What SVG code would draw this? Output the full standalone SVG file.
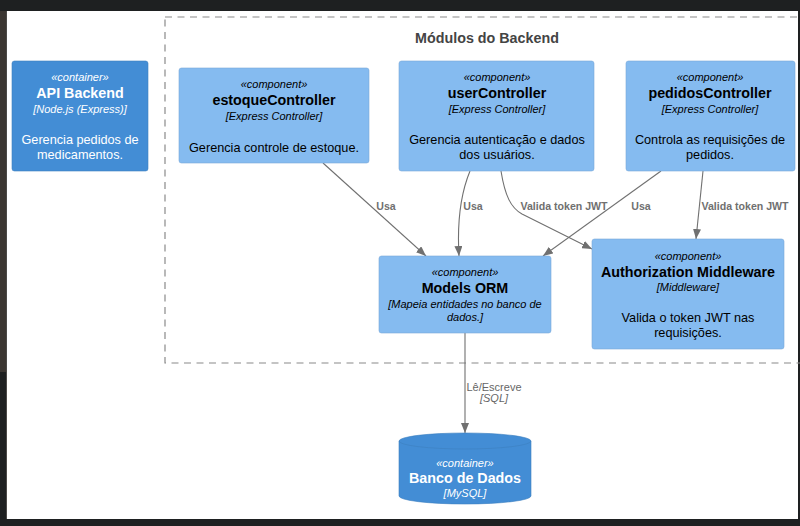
<svg xmlns="http://www.w3.org/2000/svg" width="800" height="526" viewBox="0 0 800 526">
<style>
text{font-family:"Liberation Sans",Arial,sans-serif}
.st{font-size:11px;font-style:italic;text-anchor:middle}
.ti{font-size:14.3px;font-weight:bold;text-anchor:middle}
.te{font-size:11px;font-style:italic;text-anchor:middle}
.de{font-size:12.7px;text-anchor:middle}
.comp rect{fill:#85bbf0;stroke:#78a8d8;stroke-width:0.6}
.comp text{fill:#000}
.cont rect,.cont path.b{fill:#438dd5;stroke:#3c7fc0;stroke-width:0.6}
.cont text{fill:#fff}
.lbl{font-size:10.6px;font-weight:bold;fill:#707070;text-anchor:middle}
.conn path{fill:none;stroke:#707070;stroke-width:1.1;marker-end:url(#ah)}
</style>
<defs>
<marker id="ah" markerUnits="userSpaceOnUse" markerWidth="10" markerHeight="8" refX="10" refY="4" orient="auto">
<path d="M0,0 L10,4 L0,8 z" fill="#707070"/>
</marker>
</defs>
<rect x="0" y="0" width="800" height="526" fill="#fff"/>
<rect x="0" y="0" width="800" height="11" fill="#1e2021"/>
<rect x="0" y="519" width="800" height="7" fill="#1e2021"/>
<rect x="798" y="0" width="2" height="526" fill="#1e2021"/>
<rect x="0" y="11" width="7" height="361" fill="#3b3632"/>
<rect x="0" y="372" width="7" height="154" fill="#1e2021"/>
<line x1="6.5" y1="11" x2="6.5" y2="519" stroke="#4c4a48" stroke-width="1"/>

<g id="boundary">
<rect x="165" y="17" width="640" height="346" fill="none" stroke="#8a8a8a" stroke-width="1.2" stroke-dasharray="7 5.5"/>
<text x="487" y="43" style="font-size:14.3px;font-weight:bold;fill:#444;text-anchor:middle">Módulos do Backend</text>
</g>

<g id="conectores" class="conn">
<path d="M323,163 L426,256"/>
<path d="M470,171 Q456,205 459,256"/>
<path d="M501,171 C505,196 511,208 522,214 L592,249"/>
<path d="M661,171 Q628,195 543,256"/>
<path d="M703,171 L696,239"/>
<path d="M465,333 L465,433"/>
<text class="lbl" x="386" y="210">Usa</text>
<text class="lbl" x="473" y="210">Usa</text>
<text class="lbl" x="564" y="210">Valida token JWT</text>
<text class="lbl" x="641" y="210">Usa</text>
<text class="lbl" x="745" y="210">Valida token JWT</text>
<text x="494" y="390.5" style="font-size:11px;fill:#666;text-anchor:middle">Lê/Escreve</text>
<text x="494" y="402" style="font-size:11px;font-style:italic;fill:#666;text-anchor:middle">[SQL]</text>
</g>

<g id="api-backend" class="cont">
<rect x="12" y="61" width="136" height="110" rx="2.5"/>
<text class="st" x="80" y="81">«container»</text>
<text class="ti" x="80" y="98">API Backend</text>
<text class="te" x="80" y="112.5">[Node.js (Express)]</text>
<text class="de" x="80" y="144">Gerencia pedidos de</text>
<text class="de" x="80" y="159">medicamentos.</text>
</g>

<g id="estoqueController" class="comp">
<rect x="179" y="68" width="190" height="95" rx="2.5"/>
<text class="st" x="274" y="88">«component»</text>
<text class="ti" x="274" y="105.3">estoqueController</text>
<text class="te" x="274" y="120">[Express Controller]</text>
<text class="de" x="274" y="151.7">Gerencia controle de estoque.</text>
</g>

<g id="userController" class="comp">
<rect x="399" y="61" width="195" height="110" rx="2.5"/>
<text class="st" x="497" y="81">«component»</text>
<text class="ti" x="497" y="98">userController</text>
<text class="te" x="497" y="112.5">[Express Controller]</text>
<text class="de" x="497" y="144">Gerencia autenticação e dados</text>
<text class="de" x="497" y="159">dos usuários.</text>
</g>

<g id="pedidosController" class="comp">
<rect x="626" y="61" width="169" height="110" rx="2.5"/>
<text class="st" x="710" y="81">«component»</text>
<text class="ti" x="710" y="98">pedidosController</text>
<text class="te" x="710" y="112.5">[Express Controller]</text>
<text class="de" x="710" y="144">Controla as requisições de</text>
<text class="de" x="710" y="159">pedidos.</text>
</g>

<g id="models-orm" class="comp">
<rect x="379" y="256" width="172" height="77" rx="2.5"/>
<text class="st" x="465" y="276">«component»</text>
<text class="ti" x="465" y="293">Models ORM</text>
<text class="te" x="465" y="308">[Mapeia entidades no banco de</text>
<text class="te" x="465" y="321">dados.]</text>
</g>

<g id="authorization-middleware" class="comp">
<rect x="592" y="239" width="192" height="110" rx="2.5"/>
<text class="st" x="688" y="259.5">«component»</text>
<text class="ti" x="688" y="276.5">Authorization Middleware</text>
<text class="te" x="688" y="291">[Middleware]</text>
<text class="de" x="688" y="322">Valida o token JWT nas</text>
<text class="de" x="688" y="337">requisições.</text>
</g>

<g id="banco-de-dados" class="cont">
<path class="b" d="M399,441 A66,8 0 0 1 531,441 L531,496 A66,8 0 0 1 399,496 Z"/>
<path d="M399,441 A66,8 0 0 0 531,441" fill="none" stroke="#3c7fc0" stroke-width="0.6"/>
<text class="st" x="465" y="467">«container»</text>
<text class="ti" x="465" y="483">Banco de Dados</text>
<text class="te" x="465" y="497">[MySQL]</text>
</g>
</svg>
